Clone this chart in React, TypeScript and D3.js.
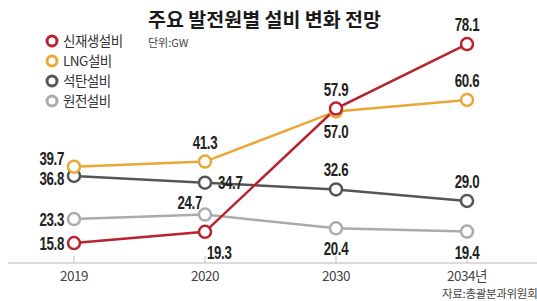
import React from "react";
import * as d3 from "d3";

const years = ["2019", "2020", "2030", "2034년"];
const seriesNames = ["신재생설비", "LNG설비", "석탄설비", "원전설비"];
const renewable = [15.8, 19.3, 57.9, 78.1];
const lng = [39.7, 41.3, 57.0, 60.6];
const coal = [36.8, 34.7, 32.6, 29.0];
const nuclear = [23.3, 24.7, 20.4, 19.4];
const colors = ["#b8232f", "#e8a833", "#555555", "#ababab"];
// label placement per point
const renewablePos = ["left", "belowRight", "above", "above"];
const lngPos = ["leftUp", "above", "below", "above"];
const coalPos = ["leftDown", "right", "above", "above"];
const nuclearPos = ["left", "leftUp", "below", "below"];

const title = "주요 발전원별 설비 변화 전망";
const unit = "단위:GW";
const source = "자료:총괄분과위원회";

export default function App() {
  const W = 537, H = 301;
  const x = d3.scalePoint<string>().domain(years).range([74, 467]);
  const y = d3.scaleLinear().domain([0, 80]).range([293.5, 38]);
  const series = [
    { name: seriesNames[0], values: renewable, pos: renewablePos, color: colors[0] },
    { name: seriesNames[1], values: lng, pos: lngPos, color: colors[1] },
    { name: seriesNames[2], values: coal, pos: coalPos, color: colors[2] },
    { name: seriesNames[3], values: nuclear, pos: nuclearPos, color: colors[3] },
  ];
  const line = d3
    .line<number>()
    .x((_, i) => x(years[i]) as number)
    .y((d) => y(d));
  const drawOrder = [3, 2, 1, 0];
  const numFont = "'Liberation Sans', Arial, sans-serif";
  const kr = "'Noto Sans CJK KR', sans-serif";

  const labelAttrs = (pos: string, px: number, py: number) => {
    switch (pos) {
      case "left":
        return { x: px - 10, y: py + 7, anchor: "end" };
      case "leftUp":
        return { x: px - 10, y: py - 1.5, anchor: "end" };
      case "leftDown":
        return { x: px - 10, y: py + 9, anchor: "end" };
      case "right":
        return { x: px + 13, y: py + 6, anchor: "start" };
      case "belowRight":
        return { x: px + 2, y: py + 27, anchor: "start" };
      case "above":
        return { x: px, y: py - 13, anchor: "middle" };
      case "below":
        return { x: px, y: py + 27, anchor: "middle" };
      default:
        return { x: px, y: py, anchor: "middle" };
    }
  };
  const special = (si: number, i: number, a: any) => {
    if (si === 3 && i === 1) return { ...a, x: a.x + 7, y: a.y - 4 };
    return a;
  };

  return (
    <svg width={W} height={H} style={{ position: "absolute", left: 0, top: 0, background: "#fff" }}>
      <rect width={W} height={H} fill="#fff" />
      <text x={148} y={27} fontFamily={kr} fontWeight={700} fontSize={19.5} fill="#1a1a1a">
        {title}
      </text>
      <text x={148} y={47} fontFamily={kr} fontSize={11} fill="#444">
        {unit}
      </text>
      {series.map((s, i) => (
        <g key={s.name} transform={`translate(52, ${41 + i * 20})`}>
          <circle r={5} fill="#fff" stroke={s.color} strokeWidth={3} />
          <text x={11} y={5} fontFamily={kr} fontSize={13.5} fill="#333" letterSpacing={-0.5}>
            {s.name}
          </text>
        </g>
      ))}
      <line x1={8} x2={W} y1={263} y2={263} stroke="#cfcfcf" strokeWidth={1.5} />
      {years.map((yr) => (
        <g key={yr}>
          <line x1={x(yr)} x2={x(yr)} y1={256} y2={263} stroke="#bdbdbd" strokeWidth={1} />
          <text
            x={x(yr)}
            y={281}
            textAnchor="middle"
            fontFamily={kr}
            fontSize={13.5}
            fill="#444"
            letterSpacing={-0.5}
          >
            {yr}
          </text>
        </g>
      ))}
      {drawOrder.map((si) => {
        const s = series[si];
        return (
          <path key={s.name} d={line(s.values) || ""} fill="none" stroke={s.color} strokeWidth={2.5} />
        );
      })}
      {drawOrder.map((si) => {
        const s = series[si];
        return (
          <g key={s.name + "pts"}>
            {s.values.map((v, i) => (
              <circle
                key={i}
                cx={x(years[i])}
                cy={y(v)}
                r={6}
                fill="#fff"
                stroke={s.color}
                strokeWidth={2.5}
              />
            ))}
          </g>
        );
      })}
      {series.map((s, si) =>
        s.values.map((v, i) => {
          const a = special(si, i, labelAttrs(s.pos[i], x(years[i]) as number, y(v)));
          return (
            <text
              key={s.name + i}
              transform={`translate(${a.x},${a.y}) scale(0.72,1)`}
              textAnchor={a.anchor}
              fontFamily={numFont}
              fontWeight={700}
              fontSize={18.5}
              letterSpacing={-0.5}
              fill="#222"
            >
              {v.toFixed(1)}
            </text>
          );
        })
      )}
      <text x={442} y={298} fontFamily={kr} fontSize={11.5} fill="#444" letterSpacing={-0.3}>
        {source}
      </text>
    </svg>
  );
}
